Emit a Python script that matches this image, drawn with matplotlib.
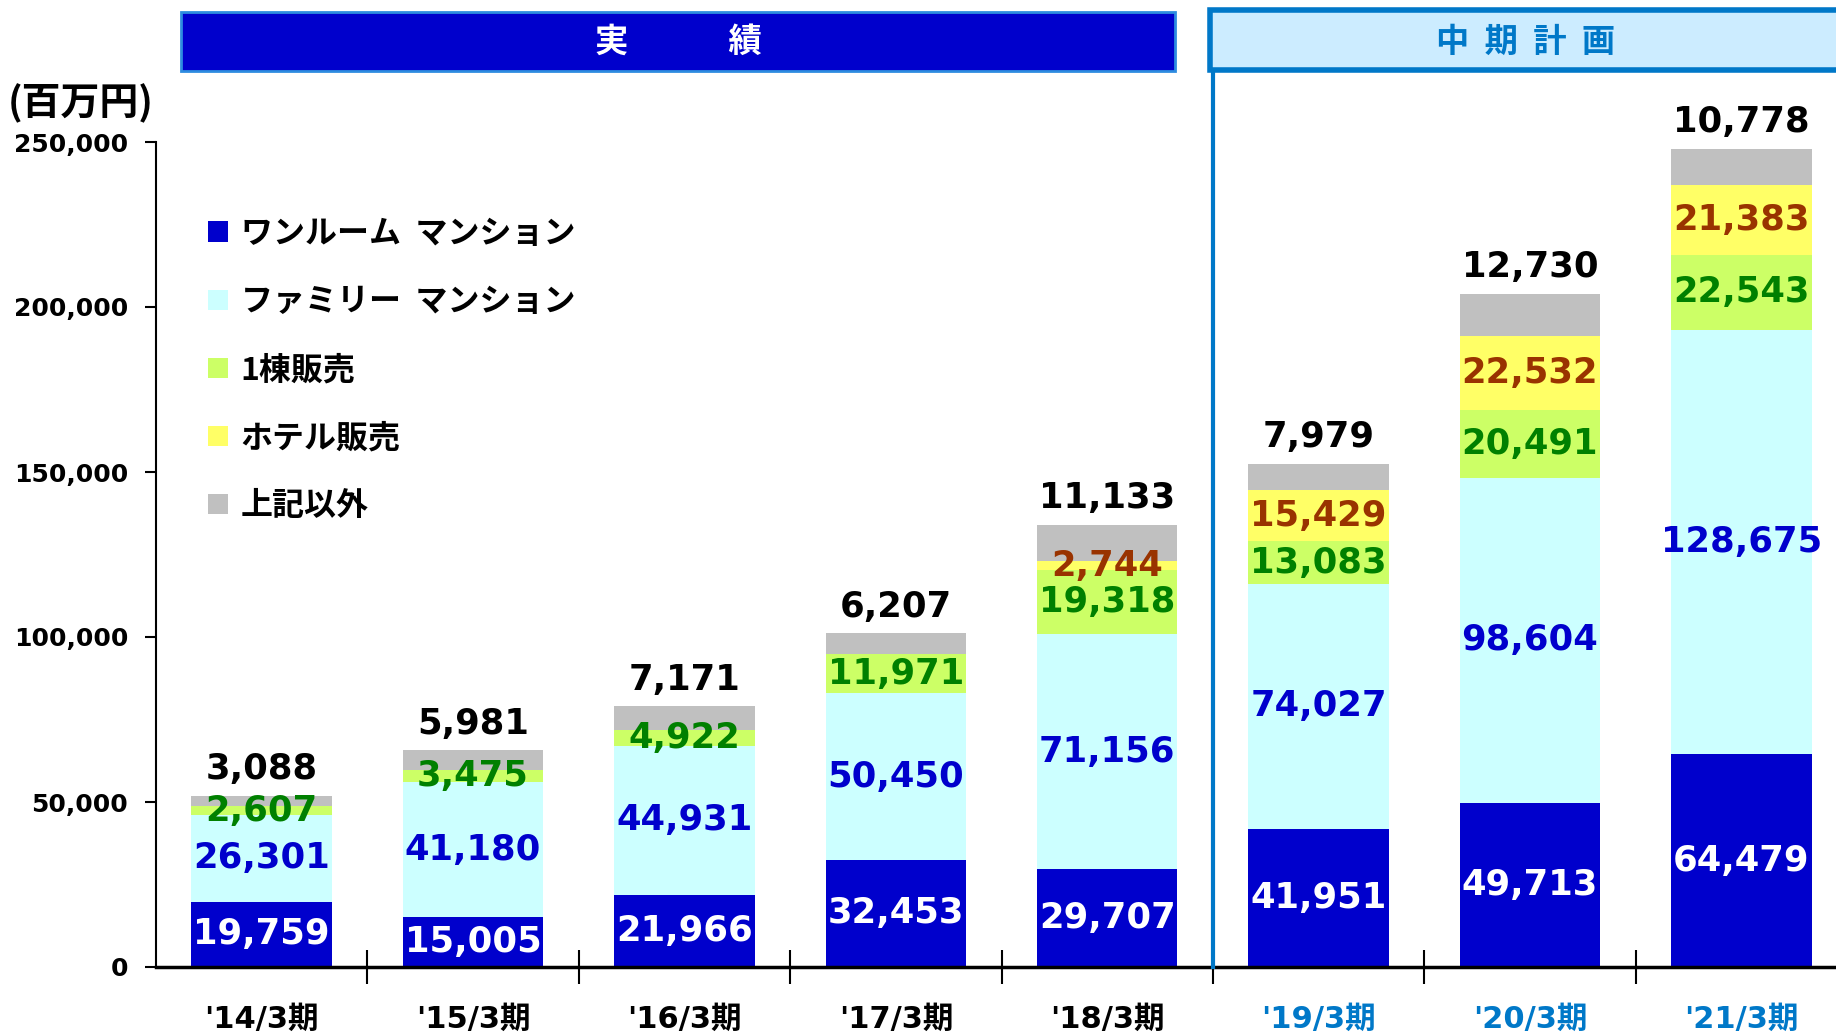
import matplotlib
matplotlib.use("Agg")
import matplotlib.pyplot as plt
from matplotlib.patches import Patch, Rectangle
from matplotlib.ticker import FuncFormatter

periods = ["'14/3期", "'15/3期", "'16/3期", "'17/3期", "'18/3期", "'19/3期", "'20/3期", "'21/3期"]
one_room = [19759, 15005, 21966, 32453, 29707, 41951, 49713, 64479]
family = [26301, 41180, 44931, 50450, 71156, 74027, 98604, 128675]
whole_building = [2607, 3475, 4922, 11971, 19318, 13083, 20491, 22543]
hotel = [0, 0, 0, 0, 2744, 15429, 22532, 21383]
other = [3088, 5981, 7171, 6207, 11133, 7979, 12730, 10778]
series_names = ["ワンルーム  マンション", "ファミリー  マンション", "1棟販売", "ホテル販売", "上記以外"]

bar_colors = ["#0000CC", "#CCFFFF", "#CCFF66", "#FFFF66", "#C0C0C0"]
label_colors = ["white", "#0000CC", "#008000", "#993300", "black"]
plan_blue = "#0078C8"
jp = ["Noto Sans CJK JP", "DejaVu Sans"]
num = ["DejaVu Sans", "Noto Sans CJK JP"]

fig = plt.figure(figsize=(18.36, 10.32), dpi=100)
ax = fig.add_axes([156 / 1836, 65 / 1032, 1691 / 1836, 825 / 1032])

x = list(range(len(periods)))
all_series = [one_room, family, whole_building, hotel, other]
bottom = [0] * len(periods)
for i, values in enumerate(all_series):
    bars = ax.bar(x, values, width=0.665, bottom=bottom, color=bar_colors[i], linewidth=0)
    labels = [f"{v:,}" if v > 0 else "" for v in values]
    if i == len(all_series) - 1:
        ax.bar_label(bars, labels=labels, padding=7, color=label_colors[i],
                     fontsize=25.5, fontweight="bold", family=num)
    else:
        ax.bar_label(bars, labels=labels, label_type="center", color=label_colors[i],
                     fontsize=25.5, fontweight="bold", family=num)
    bottom = [b + v for b, v in zip(bottom, values)]

ax.set_xlim(-0.5, len(periods) - 0.5)
ax.set_ylim(0, 250000)
ax.set_yticks(range(0, 250001, 50000))
ax.yaxis.set_major_formatter(FuncFormatter(lambda v, p: f"{int(v):,}"))
for lab in ax.get_yticklabels():
    lab.set_fontsize(18)
    lab.set_fontweight("bold")
    lab.set_family(num)
ax.tick_params(axis="y", length=8, width=1.5, pad=12)

ax.set_xticks(x)
ax.set_xticklabels(periods)
ax.set_xticks([i - 0.5 for i in range(1, len(periods) + 1)], minor=True)
ax.tick_params(axis="x", which="major", length=0, pad=27)
ax.tick_params(axis="x", which="minor", length=24, width=1.5, direction="inout")
for i, lab in enumerate(ax.get_xticklabels()):
    lab.set_fontsize(22)
    lab.set_fontweight("bold")
    lab.set_family(num)
    lab.set_color("black" if i < 5 else plan_blue)

for s in ["top", "right"]:
    ax.spines[s].set_visible(False)
ax.spines["left"].set_linewidth(1.5)
ax.spines["bottom"].set_linewidth(2.5)
ax.spines["bottom"].set_zorder(5)

# 実績 / 中期計画 divider
ax.axvline(4.5, ymin=0, ymax=(967 - 72) / 825, color=plan_blue, lw=3, clip_on=False, zorder=6)

# header boxes
fig.patches.append(Rectangle((181 / 1836, 1 - 71 / 1032), 994 / 1836, 59 / 1032,
                             transform=fig.transFigure, facecolor="#0000CC",
                             edgecolor="#2E8CE0", lw=2))
fig.patches.append(Rectangle((1210 / 1836, 1 - 70 / 1032), 700 / 1836, 60 / 1032,
                             transform=fig.transFigure, facecolor="#CCECFF",
                             edgecolor=plan_blue, lw=4))
fig.text(678 / 1836, 1 - 42 / 1032, "実　　　績", color="white", fontsize=24,
         fontweight="bold", family=jp, ha="center", va="center")
fig.text(1526 / 1836, 1 - 42 / 1032, "中  期  計  画", color=plan_blue, fontsize=24,
         fontweight="bold", family=jp, ha="center", va="center")

fig.text(8 / 1836, 1 - 103 / 1032, "(百万円)", fontsize=28, fontweight="bold",
         family=jp, ha="left", va="center")

handles = [Patch(facecolor=c, edgecolor="none") for c in bar_colors]
ax.legend(handles, series_names, loc="upper left", bbox_to_anchor=(208 / 1836, 1 - 218 / 1032),
          bbox_transform=fig.transFigure, frameon=False, borderpad=0, borderaxespad=0,
          handlelength=0.62, handleheight=0.62, handletextpad=0.4, labelspacing=1.13,
          prop={"family": jp, "weight": "bold", "size": 23})

fig.savefig("out.png", dpi=100)
